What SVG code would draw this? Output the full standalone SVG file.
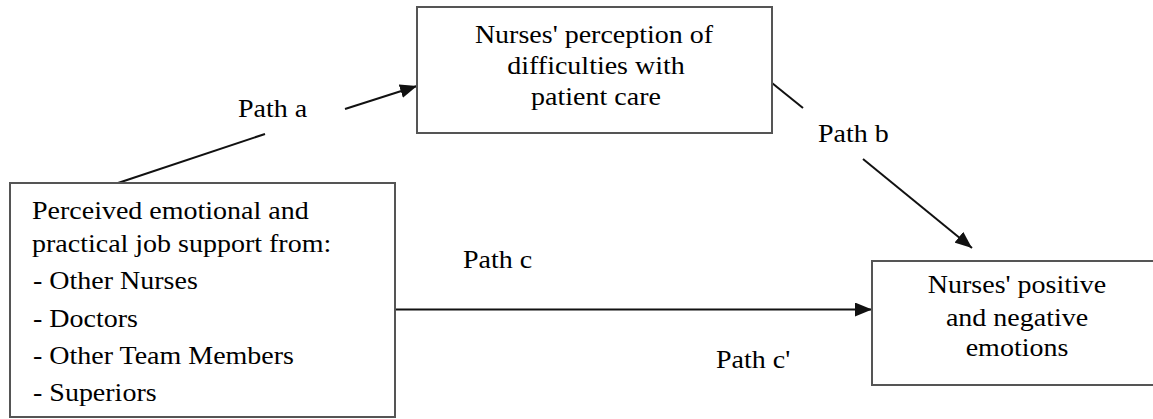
<svg xmlns="http://www.w3.org/2000/svg" width="1153" height="419" viewBox="0 0 1153 419">
<defs>
<marker id="arr" markerUnits="userSpaceOnUse" markerWidth="18" markerHeight="14" refX="17" refY="7" orient="auto">
<path d="M0,0 L17,7 L0,14 z" fill="#111"/>
</marker>
</defs>
<rect width="1153" height="419" fill="#fff"/>
<g id="connectors">
<g stroke="#111" stroke-width="2" fill="none">
<line x1="118" y1="183" x2="265" y2="134"/>
<line x1="345" y1="109" x2="417" y2="86" marker-end="url(#arr)"/>
<line x1="772" y1="83" x2="803" y2="108"/>
<line x1="863" y1="159" x2="972" y2="248" marker-end="url(#arr)"/>
<line x1="395" y1="309.5" x2="872" y2="309.5" marker-end="url(#arr)"/>
</g>
<text font-family="Liberation Serif" font-size="25" transform="translate(238,117) scale(1.12,1)">Path a</text>
<text font-family="Liberation Serif" font-size="25" transform="translate(818,142) scale(1.12,1)">Path b</text>
<text font-family="Liberation Serif" font-size="25" transform="translate(463,268) scale(1.12,1)">Path c</text>
<text font-family="Liberation Serif" font-size="25" transform="translate(716,368) scale(1.12,1)">Path c'</text>
</g>
<g id="node-support">
<rect x="10" y="183" width="385" height="234" fill="#fff" stroke="#555" stroke-width="2"/>
<text font-family="Liberation Serif" font-size="25" transform="translate(32,219) scale(1.12,1)">Perceived emotional and</text>
<text font-family="Liberation Serif" font-size="25" transform="translate(32,252) scale(1.12,1)">practical job support from:</text>
<text font-family="Liberation Serif" font-size="25" transform="translate(33,289) scale(1.12,1)">- Other Nurses</text>
<text font-family="Liberation Serif" font-size="25" transform="translate(33,327) scale(1.12,1)">- Doctors</text>
<text font-family="Liberation Serif" font-size="25" transform="translate(33,364) scale(1.12,1)">- Other Team Members</text>
<text font-family="Liberation Serif" font-size="25" transform="translate(33,401) scale(1.12,1)">- Superiors</text>
</g>
<g id="node-perception">
<rect x="417" y="7" width="355" height="126" fill="#fff" stroke="#555" stroke-width="2"/>
<text font-family="Liberation Serif" font-size="25" text-anchor="middle" transform="translate(594,43) scale(1.12,1)">Nurses' perception of</text>
<text font-family="Liberation Serif" font-size="25" text-anchor="middle" transform="translate(596,74) scale(1.12,1)">difficulties with</text>
<text font-family="Liberation Serif" font-size="25" text-anchor="middle" transform="translate(596,105) scale(1.12,1)">patient care</text>
</g>
<g id="node-emotions">
<rect x="872" y="261" width="300" height="124" fill="#fff" stroke="#555" stroke-width="2"/>
<text font-family="Liberation Serif" font-size="25" text-anchor="middle" transform="translate(1017,293) scale(1.12,1)">Nurses' positive</text>
<text font-family="Liberation Serif" font-size="25" text-anchor="middle" transform="translate(1017,326) scale(1.12,1)">and negative</text>
<text font-family="Liberation Serif" font-size="25" text-anchor="middle" transform="translate(1017,356) scale(1.12,1)">emotions</text>
</g>
</svg>
